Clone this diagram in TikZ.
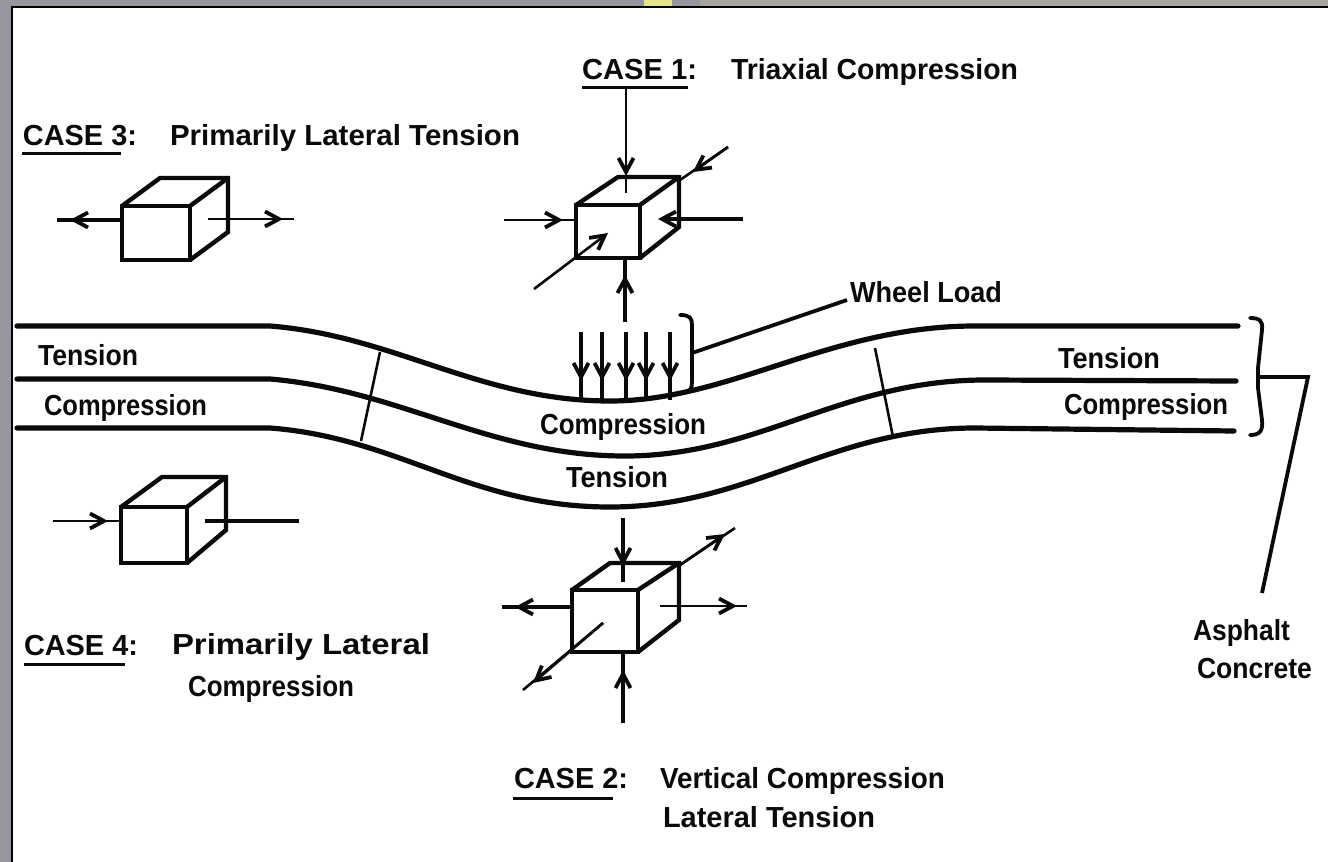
\documentclass[tikz,border=0pt]{standalone}
\usepackage{fontspec}
\usetikzlibrary{arrows.meta}
\setmainfont{Liberation Sans}
\definecolor{frameg}{HTML}{96969E}
\definecolor{frameb}{HTML}{A8A59F}
\definecolor{framey}{HTML}{E8E48A}
\definecolor{ink}{HTML}{0A0A0A}
% text squeezed or stretched to the width it has in the reference
\newsavebox{\fitbox}
\newcommand{\fitw}[2]{\sbox{\fitbox}{#2}\pgfmathsetmacro{\fitf}{#1/(\the\wd\fitbox)}\scalebox{\fitf}[1]{\usebox{\fitbox}}}
\tikzset{
  x=1pt,y=-1pt,
  lbl/.style={anchor=base west,inner sep=0pt,outer sep=0pt,font=\bfseries\fontsize{29}{31}\selectfont,text=ink},
  layer/.style={draw=ink,line width=5.2pt,line cap=round,line join=round},
  thin line/.style={draw=ink,line width=2.6pt},
  mid line/.style={draw=ink,line width=3.8pt},
  box edge/.style={draw=ink,line width=4.4pt,line join=miter},
  ulbar/.style={draw=ink,line width=3pt},
  head/.style={-{Straight Barb[length=14pt,width=15pt,line width=3.8pt]}},
}
% forced arrow: a line from #2 to #4, with a head tipped at #3 on the way
\newcommand{\forced}[4][mid line]{\draw[#1] (#2) -- (#4);\draw[#1,head] (#2) -- (#3);}
% cube: front-left, front-top, front-right, front-bottom, back-left, back-top, back-right, back-bottom
\newcommand{\cubeat}[8]{%
  \draw[box edge] (#1,#2) rectangle (#3,#4);
  \draw[box edge] (#1,#2) -- (#5,#6) -- (#7,#6) -- (#7,#8) -- (#3,#4);
  \draw[box edge] (#3,#2) -- (#7,#6);}
\begin{document}
\begin{tikzpicture}
\useasboundingbox (0,0) rectangle (1328,862);
% window frame
\fill[frameg] (0,0) rectangle (1328,862);
\fill[frameb] (700,0) rectangle (1328,7);
\fill[framey] (644,0) rectangle (672,7);
\fill[white] (12,7) rectangle (1328,862);
\draw[black,line width=2.4pt] (12,862) -- (12,7) -- (1328,7);

% layers
\draw[layer] (17,326) -- (270,326) .. controls (395,336) and (480,401) .. (610,401) .. controls (730,401) and (830,326) .. (975,326) -- (1238,326);
\draw[layer] (17,379) -- (270,379) .. controls (400,390) and (490,456) .. (625,456) .. controls (760,456) and (840,380) .. (985,380) -- (1236,381);
\draw[layer] (17,428) -- (270,428) .. controls (400,438) and (470,507) .. (610,507) .. controls (750,507) and (830,428) .. (975,428) -- (1234,431);
\coordinate (tl1) at (380,352); \coordinate (tl2) at (361,441);
\coordinate (tr1) at (875,348); \coordinate (tr2) at (893,437);
\draw[thin line] (tl1) -- (tl2);
\draw[thin line] (tr1) -- (tr2);

% wheel load
\foreach \x [count=\i] in {581,602,626,646,670}{
  \coordinate (w\i a) at (\x,332); \coordinate (w\i t) at (\x,381); \coordinate (w\i b) at (\x,400);
  \forced{w\i a}{w\i t}{w\i b}
}
\coordinate (wb0) at (680,315); \coordinate (wb1) at (692,353);
\draw[mid line,line cap=round] (wb0) .. controls (690,315) and (692,318) .. (692,325) -- (wb1) -- (692,382) .. controls (692,389) and (690,392) .. (683,392);
\node[lbl] (wheel) at (850,302) {\fitw{152}{Wheel Load}};
\draw[mid line] (wb1) -- (847,300);

% Case 1
\cubeat{576}{205}{640}{258}{618}{177}{679}{227}
\coordinate (c1a) at (626,88);\coordinate (c1b) at (626,176);\coordinate (c1c) at (626,193);
\forced[thin line]{c1a}{c1b}{c1c}
\coordinate (c1d) at (728,147);\coordinate (c1e) at (693,172);\coordinate (c1f) at (680,180);
\forced[thin line]{c1d}{c1e}{c1f}
\coordinate (c1g) at (504,220);\coordinate (c1h) at (563,220);\coordinate (c1i) at (576,220);
\forced[thin line]{c1g}{c1h}{c1i}
\coordinate (c1j) at (743,219);\coordinate (c1k) at (658,219);
\draw[mid line,head] (c1j) -- (c1k);
\coordinate (c1l) at (534,289);\coordinate (c1m) at (608,233);
\draw[thin line,head] (c1l) -- (c1m);
\coordinate (c1n) at (625,322);\coordinate (c1o) at (625,275);\coordinate (c1p) at (625,258);
\forced{c1n}{c1o}{c1p}
\node[lbl] (case1) at (582,79) {\fitw{115}{CASE 1:}};
\draw[ulbar] (582,87) -- (688,87);
\node[lbl] (t1) at (731,79) {\fitw{287}{Triaxial Compression}};

% Case 3
\cubeat{122}{206}{190}{260}{160}{178}{228}{232}
\coordinate (c3a) at (122,220);\coordinate (c3b) at (70,220);\coordinate (c3c) at (57,220);
\forced{c3a}{c3b}{c3c}
\coordinate (c3d) at (208,219);\coordinate (c3e) at (283,219);\coordinate (c3f) at (294,219);
\forced[thin line]{c3d}{c3e}{c3f}
\node[lbl] (case3) at (23,145) {\fitw{114}{CASE 3:}};
\draw[ulbar] (22,153) -- (121,153);
\node[lbl] (t3) at (170,145) {\fitw{350}{Primarily Lateral Tension}};

% Case 4
\cubeat{121}{507}{187}{563}{162}{477}{226}{530}
\coordinate (c4a) at (53,521);\coordinate (c4b) at (108,521);\coordinate (c4c) at (121,521);
\forced[thin line]{c4a}{c4b}{c4c}
\coordinate (c4d) at (299,521);\coordinate (c4e) at (205,521);
\draw[mid line] (c4d) -- (c4e);
\node[lbl] (case4) at (24,655) {\fitw{114}{CASE 4:}};
\draw[ulbar] (24,664) -- (125,664);
\node[lbl] (t4a) at (172,654) {\fitw{258}{Primarily Lateral}};
\node[lbl] (t4b) at (188,696) {\fitw{166}{Compression}};

% Case 2
\cubeat{572}{590}{638}{652}{610}{563}{679}{620}
\coordinate (c2a) at (623,518);\coordinate (c2b) at (623,566);\coordinate (c2c) at (623,582);
\forced{c2a}{c2b}{c2c}
\coordinate (c2d) at (623,723);\coordinate (c2e) at (623,670);\coordinate (c2f) at (623,652);
\forced{c2d}{c2e}{c2f}
\coordinate (c2g) at (572,607);\coordinate (c2h) at (515,607);\coordinate (c2i) at (502,607);
\forced{c2g}{c2h}{c2i}
\coordinate (c2j) at (660,606);\coordinate (c2k) at (737,606);\coordinate (c2l) at (747,606);
\forced[thin line]{c2j}{c2k}{c2l}
\coordinate (c2m) at (680,565);\coordinate (c2n) at (725,534);\coordinate (c2o) at (735,528);
\forced[thin line]{c2m}{c2n}{c2o}
\coordinate (c2p) at (603,623);\coordinate (c2q) at (533,683);\coordinate (c2r) at (523,690);
\forced[thin line]{c2p}{c2q}{c2r}
\node[lbl] (case2) at (514,788) {\fitw{114}{CASE 2:}};
\draw[ulbar] (513,798) -- (613,798);
\node[lbl] (t2a) at (660,788) {\fitw{285}{Vertical Compression}};
\node[lbl] (t2b) at (663,827) {\fitw{212}{Lateral Tension}};

% layer labels
\node[lbl] (tl) at (38,365) {\fitw{100}{Tension}};
\node[lbl] (cl) at (44,415) {\fitw{163}{Compression}};
\node[lbl] (cc) at (540,434) {\fitw{166}{Compression}};
\node[lbl] (tc) at (566,487) {\fitw{102}{Tension}};
\node[lbl] (tr) at (1058,368) {\fitw{102}{Tension}};
\node[lbl] (cr) at (1064,414) {\fitw{164}{Compression}};

% asphalt concrete
\coordinate (b0) at (1250,318);\coordinate (b1) at (1258,377);\coordinate (b2) at (1250,435);
\draw[mid line,line cap=round] (b0) .. controls (1260,318) and (1263,321) .. (1262,330) -- (1258,368) -- (b1) -- (1258,388) -- (1262,420) .. controls (1263,431) and (1260,435) .. (b2);
\coordinate (bc) at (1308,377);\coordinate (be) at (1262,593);
\draw[mid line] (b1) -- (bc) -- (be);
\node[lbl] (as) at (1193,640) {\fitw{97}{Asphalt}};
\node[lbl] (co) at (1197,678) {\fitw{115}{Concrete}};
\end{tikzpicture}
\end{document}
